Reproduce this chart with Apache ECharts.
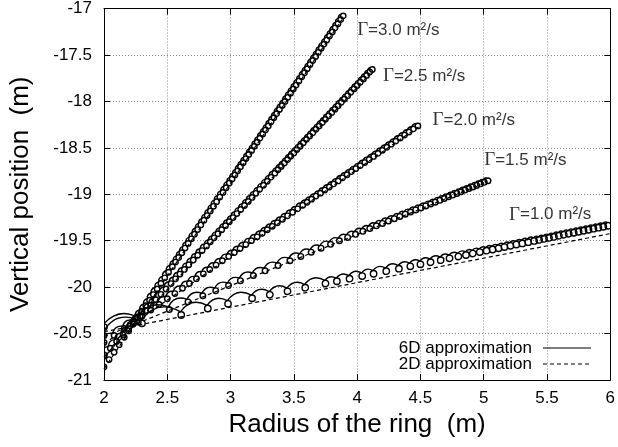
<!DOCTYPE html>
<html>
<head>
<meta charset="utf-8">
<script src="https://cdn.jsdelivr.net/npm/echarts@6/dist/echarts.min.js"></script>
<style>
html,body{margin:0;padding:0;background:#fff;}
#chart{width:618px;height:447px;}
</style>
</head>
<body>
<div id="chart"></div>
<script>
// ---------- data ----------
const xTicks = [2, 2.5, 3, 3.5, 4, 4.5, 5, 5.5, 6];
const yTicks = [-21, -20.5, -20, -19.5, -19, -18.5, -18, -17.5, -17];
const gammaValues = ['3.0', '2.5', '2.0', '1.5', '1.0'];
const labelAnchorX = [4.0, 4.204, 4.596, 5.004, 5.2];
const labelAnchorY = [-17.235, -17.725, -18.205, -18.63, -19.22];

// 2D approximation (straight lines), one per circulation
const line2D_G30 = [[2, -20.88], [3.88, -17.12]];
const line2D_G25 = [[2, -20.75], [4.12, -17.676]];
const line2D_G20 = [[2, -20.61], [4.49, -18.27]];
const line2D_G15 = [[2, -20.534], [5.03, -18.868]];
const line2D_G10 = [[2, -20.48], [6, -19.424]];

// 6D approximation: positions of the small loops of each trajectory
const loops_G30 = [[2.0,-20.86],[2.04,-20.78],[2.08,-20.70],[2.12,-20.62],[2.16,-20.54],[2.195,-20.47],[2.23,-20.40],[2.265,-20.33],[2.30,-20.26],[2.33,-20.20],[2.36,-20.14],[2.39,-20.08],[2.42,-20.02],[2.45,-19.96],[2.48,-19.90],[2.51,-19.84],[2.54,-19.78],[2.565,-19.73],[2.59,-19.68],[2.615,-19.63],[2.64,-19.58],[2.665,-19.53],[2.69,-19.48],[2.715,-19.43],[2.74,-19.38],[2.765,-19.33],[2.79,-19.28],[2.815,-19.23],[2.84,-19.18],[2.865,-19.13],[2.89,-19.08],[2.915,-19.03],[2.94,-18.98],[2.965,-18.93],[2.99,-18.88],[3.012,-18.836],[3.034,-18.792],[3.056,-18.748],[3.078,-18.704],[3.10,-18.66],[3.122,-18.616],[3.144,-18.572],[3.166,-18.528],[3.188,-18.484],[3.21,-18.44],[3.232,-18.396],[3.254,-18.352],[3.276,-18.308],[3.298,-18.264],[3.32,-18.22],[3.342,-18.176],[3.364,-18.132],[3.386,-18.088],[3.408,-18.044],[3.43,-18.00],[3.452,-17.956],[3.474,-17.912],[3.496,-17.868],[3.518,-17.824],[3.54,-17.78],[3.562,-17.736],[3.584,-17.692],[3.606,-17.648],[3.628,-17.604],[3.65,-17.56],[3.672,-17.516],[3.694,-17.472],[3.716,-17.428],[3.738,-17.384],[3.76,-17.34],[3.782,-17.296],[3.804,-17.252],[3.826,-17.208],[3.848,-17.164],[3.87,-17.12],[3.89,-17.08]];

const loops_G25 = [[2.0,-20.73],[2.05,-20.658],[2.10,-20.585],[2.15,-20.513],[2.195,-20.447],[2.24,-20.382],[2.285,-20.317],[2.33,-20.252],[2.37,-20.194],[2.41,-20.136],[2.45,-20.078],[2.49,-20.02],[2.53,-19.962],[2.565,-19.911],[2.60,-19.86],[2.635,-19.809],[2.67,-19.759],[2.705,-19.708],[2.74,-19.657],[2.775,-19.606],[2.81,-19.556],[2.84,-19.512],[2.87,-19.469],[2.90,-19.425],[2.93,-19.382],[2.96,-19.338],[2.99,-19.295],[3.02,-19.251],[3.05,-19.208],[3.08,-19.164],[3.11,-19.121],[3.14,-19.077],[3.17,-19.034],[3.20,-18.99],[3.23,-18.947],[3.26,-18.903],[3.29,-18.86],[3.32,-18.816],[3.35,-18.773],[3.375,-18.736],[3.40,-18.70],[3.425,-18.664],[3.45,-18.628],[3.475,-18.591],[3.50,-18.555],[3.525,-18.519],[3.55,-18.483],[3.575,-18.446],[3.60,-18.41],[3.625,-18.374],[3.65,-18.338],[3.675,-18.301],[3.70,-18.265],[3.725,-18.229],[3.75,-18.193],[3.775,-18.156],[3.80,-18.12],[3.825,-18.084],[3.85,-18.048],[3.875,-18.011],[3.90,-17.975],[3.925,-17.939],[3.95,-17.903],[3.975,-17.866],[4.00,-17.83],[4.025,-17.794],[4.05,-17.758],[4.075,-17.721],[4.10,-17.685],[4.12,-17.656]];

const loops_G20 = [[2.0,-20.595],[2.08,-20.52],[2.16,-20.445],[2.23,-20.379],[2.3,-20.313],[2.37,-20.247],[2.435,-20.186],[2.5,-20.125],[2.56,-20.069],[2.62,-20.012],[2.675,-19.961],[2.73,-19.909],[2.785,-19.857],[2.835,-19.81],[2.885,-19.763],[2.935,-19.716],[2.985,-19.669],[3.03,-19.627],[3.075,-19.585],[3.12,-19.542],[3.165,-19.5],[3.21,-19.458],[3.25,-19.42],[3.29,-19.382],[3.33,-19.345],[3.37,-19.307],[3.41,-19.27],[3.45,-19.232],[3.49,-19.194],[3.53,-19.157],[3.57,-19.119],[3.605,-19.086],[3.64,-19.053],[3.675,-19.02],[3.71,-18.988],[3.745,-18.955],[3.78,-18.922],[3.815,-18.889],[3.85,-18.856],[3.885,-18.823],[3.92,-18.79],[3.955,-18.757],[3.99,-18.724],[4.025,-18.692],[4.06,-18.659],[4.095,-18.626],[4.13,-18.593],[4.165,-18.56],[4.2,-18.527],[4.235,-18.494],[4.27,-18.461],[4.305,-18.428],[4.34,-18.395],[4.375,-18.363],[4.41,-18.33],[4.445,-18.297],[4.48,-18.264]];

const loops_G15 = [[2.0,-20.52],[2.27,-20.376],[2.516,-20.24],[2.664,-20.159],[2.781,-20.094],[2.883,-20.038],[2.984,-19.983],[3.078,-19.931],[3.18,-19.875],[3.273,-19.824],[3.375,-19.768],[3.469,-19.716],[3.555,-19.669],[3.637,-19.624],[3.715,-19.581],[3.79,-19.539],[3.86,-19.501],[3.925,-19.465],[3.987,-19.431],[4.045,-19.399],[4.10,-19.369],[4.152,-19.34],[4.20,-19.314],[4.247,-19.288],[4.293,-19.263],[4.337,-19.239],[4.38,-19.215],[4.422,-19.192],[4.463,-19.169],[4.503,-19.147],[4.542,-19.126],[4.58,-19.105],[4.617,-19.085],[4.653,-19.065],[4.688,-19.046],[4.722,-19.027],[4.755,-19.009],[4.788,-18.991],[4.82,-18.973],[4.852,-18.955],[4.883,-18.938],[4.914,-18.921],[4.944,-18.905],[4.974,-18.888],[5.004,-18.872],[5.034,-18.855]];

const loops_G10 = [[2.0,-20.43],[2.3,-20.39],[2.61,-20.30],[2.82,-20.23],[2.98,-20.18],[3.17,-20.12],[3.31,-20.083],[3.45,-20.045],[3.59,-20.006],[3.75,-19.962],[3.84,-19.937],[3.94,-19.909],[4.04,-19.881],[4.13,-19.856],[4.23,-19.828],[4.33,-19.801],[4.42,-19.776],[4.5,-19.754],[4.58,-19.732],[4.66,-19.71],[4.73,-19.69],[4.8,-19.671],[4.86,-19.654],[4.914,-19.639],[4.969,-19.623],[5.023,-19.608],[5.07,-19.595],[5.117,-19.582],[5.164,-19.569],[5.211,-19.555],[5.258,-19.542],[5.305,-19.529],[5.352,-19.516],[5.398,-19.503],[5.438,-19.492],[5.477,-19.481],[5.516,-19.47],[5.555,-19.459],[5.594,-19.448],[5.633,-19.437],[5.672,-19.426],[5.711,-19.415],[5.75,-19.404],[5.789,-19.393],[5.828,-19.382],[5.867,-19.371],[5.906,-19.36],[5.945,-19.35],[5.984,-19.339]];

// ---------- chart ----------
const FONT = '"Liberation Sans", Arial, Helvetica, sans-serif';
const SERIF = '"Liberation Serif", "Times New Roman", serif';
const chart = echarts.init(document.getElementById('chart'), null, {renderer: 'canvas'});

const lines2D = [line2D_G30, line2D_G25, line2D_G20, line2D_G15, line2D_G10];
const loops6D = [loops_G30, loops_G25, loops_G20, loops_G15, loops_G10];
const loopRadius = [2.7, 2.7, 2.7, 2.8, 3.2];

function loopRenderer(loops, r) {
  return function (params, api) {
    const i = params.dataIndex;
    const p = api.coord([api.value(0), api.value(1)]);
    const st = {fill: null, stroke: '#000', lineWidth: 1.4};
    const children = [{type: 'circle', shape: {cx: p[0], cy: p[1], r: r}, style: st}];
    if (i < loops.length - 1) {
      const q = api.coord(loops[i + 1]);
      const dx = q[0] - p[0], dy = q[1] - p[1];
      const d = Math.sqrt(dx * dx + dy * dy) || 1;
      const nx = dy / d, ny = -dx / d; // normal pointing up / left
      const hp = 0.22 * d;
      const sx = p[0] + nx * r, sy = p[1] + ny * r;
      const ex = q[0] + nx * r, ey = q[1] + ny * r;
      const cx = (sx + ex) / 2 + nx * 2 * hp, cy = (sy + ey) / 2 + ny * 2 * hp;
      children.push({type: 'bezierCurve', shape: {x1: sx, y1: sy, x2: ex, y2: ey, cpx1: cx, cpy1: cy}, style: st});
    }
    const cs = params.coordSys;
    return {type: 'group', children: children,
      clipPath: {type: 'rect', shape: {x: cs.x, y: cs.y, width: cs.width, height: cs.height}}};
  };
}

const series = [];
lines2D.forEach(function (l) {
  series.push({
    name: '2D approximation', type: 'line', data: l, symbol: 'none', silent: true,
    lineStyle: {color: '#000', width: 1.2, type: [4, 3]}, z: 2, clip: true
  });
});
loops6D.forEach(function (l, k) {
  series.push({
    name: '6D approximation', type: 'custom', data: l, silent: true, z: 3,
    renderItem: loopRenderer(l, loopRadius[k])
  });
});
series.push({
  type: 'scatter', symbolSize: 0, silent: true, z: 5,
  data: gammaValues.map(function (g, k) { return [labelAnchorX[k], labelAnchorY[k]]; }),
  label: {
    show: true, position: 'right', distance: 0, color: '#000',
    textBorderWidth: 0,
    formatter: function (p) { return '{g|Γ}{t|=' + gammaValues[p.dataIndex] + ' m²/s}'; },
    rich: {
      g: {fontFamily: SERIF, fontSize: 19, color: '#000'},
      t: {fontFamily: FONT, fontSize: 17, color: '#000'}
    }
  }
});

const axisCommon = {
  type: 'value',
  axisLine: {show: true, onZero: false, lineStyle: {color: '#000', width: 1}},
  axisTick: {show: true, inside: true, length: 6, lineStyle: {color: '#000'}},
};

chart.setOption({
  animation: false,
  backgroundColor: '#fff',
  grid: {left: 102, right: 6, top: 5, bottom: 67, containLabel: false},
  xAxis: [
    Object.assign({}, axisCommon, {
      min: xTicks[0], max: xTicks[xTicks.length - 1], interval: 0.5, position: 'bottom',
      name: 'Radius of the ring  (m)', nameLocation: 'middle', nameGap: 22,
      nameTextStyle: {fontFamily: FONT, fontSize: 26, color: '#000'},
      axisLabel: {fontFamily: FONT, fontSize: 17, color: '#000', margin: 10},
      splitLine: {show: true, lineStyle: {color: '#888', type: [1, 2], width: 1}}
    }),
    Object.assign({}, axisCommon, {
      min: xTicks[0], max: xTicks[xTicks.length - 1], interval: 0.5, position: 'top',
      axisLabel: {show: false}, splitLine: {show: false}
    })
  ],
  yAxis: [
    Object.assign({}, axisCommon, {
      min: yTicks[0], max: yTicks[yTicks.length - 1], interval: 0.5, position: 'left',
      name: 'Vertical position  (m)', nameLocation: 'middle', nameGap: 70,
      nameTextStyle: {fontFamily: FONT, fontSize: 26, color: '#000'},
      axisLabel: {fontFamily: FONT, fontSize: 17, color: '#000', margin: 12},
      splitLine: {show: true, lineStyle: {color: '#888', type: [1, 2], width: 1}}
    }),
    Object.assign({}, axisCommon, {
      min: yTicks[0], max: yTicks[yTicks.length - 1], interval: 0.5, position: 'right',
      axisLabel: {show: false}, splitLine: {show: false}
    })
  ],
  graphic: [
    {type: 'text', x: 532, y: 348, z: 10,
     style: {text: '6D approximation', font: '17px ' + FONT, fill: '#000', textAlign: 'right', textVerticalAlign: 'middle'}},
    {type: 'line', z: 10, shape: {x1: 543, y1: 348, x2: 591, y2: 348}, style: {stroke: '#000', lineWidth: 1.2}},
    {type: 'text', x: 532, y: 364, z: 10,
     style: {text: '2D approximation', font: '17px ' + FONT, fill: '#000', textAlign: 'right', textVerticalAlign: 'middle'}},
    {type: 'line', z: 10, shape: {x1: 543, y1: 364, x2: 591, y2: 364}, style: {stroke: '#000', lineWidth: 1.2, lineDash: [4, 3]}}
  ],
  series: series
});
</script>
</body>
</html>
